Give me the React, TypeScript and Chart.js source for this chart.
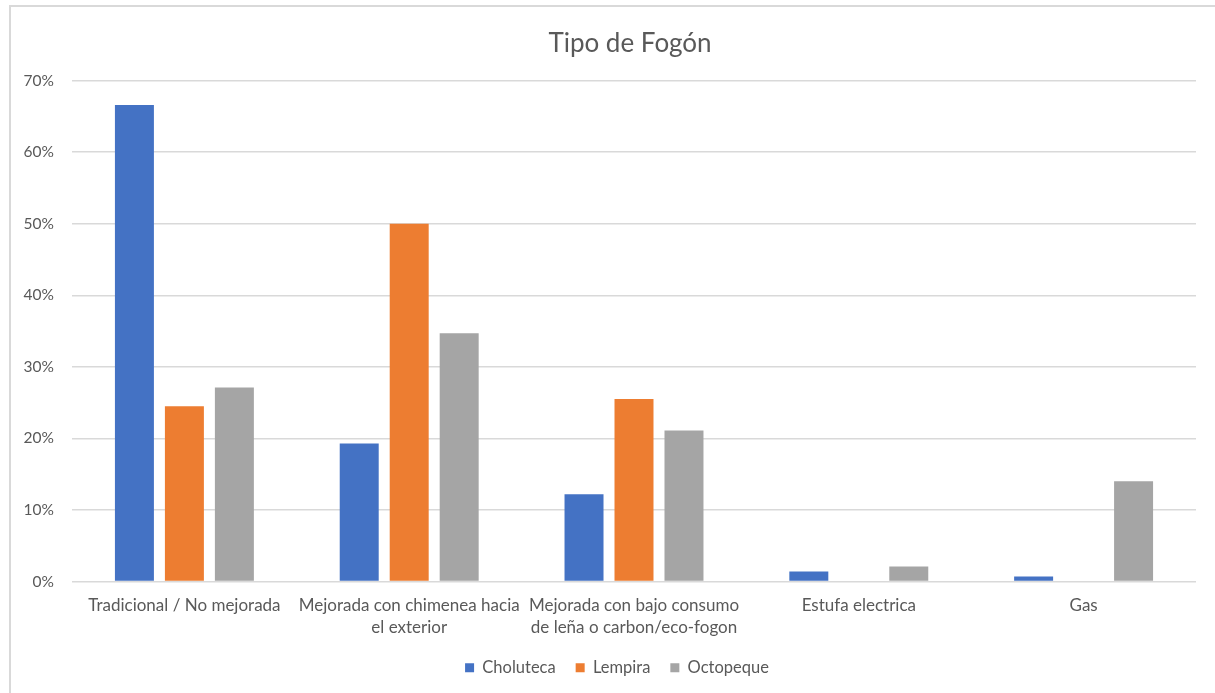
import React, { useEffect, useRef } from "react";
import { Chart, registerables } from "chart.js";

Chart.register(...registerables);

const categories: string[][] = [
  ["Tradicional / No mejorada"],
  ["Mejorada con chimenea hacia", "el exterior"],
  ["Mejorada con bajo consumo", "de leña o carbon/eco-fogon"],
  ["Estufa electrica"],
  ["Gas"],
];
const seriesNames = ["Choluteca", "Lempira", "Octopeque"];
const choluteca = [0.666, 0.193, 0.122, 0.014, 0.007];
const lempira = [0.245, 0.5, 0.255, 0, 0];
const octopeque = [0.271, 0.347, 0.211, 0.021, 0.14];
const yMax = 0.7;
const yStep = 0.1;
const chartTitle = "Tipo de Fogón";

const colors = ["#4472C4", "#ED7D31", "#A5A5A5"];
const FONT = "Lato, 'Open Sans', sans-serif";
const TEXT = "#595959";

// shifts the title and legend boxes horizontally to match the reference centring
const shiftPlugin = {
  id: "shiftBoxes",
  afterLayout(chart: any) {
    const t = chart.titleBlock;
    if (t) {
      t.left += 32;
      t.right += 32;
    }
    const l = chart.legend;
    if (l) {
      l.left += 19;
      l.right += 19;
    }
  },
};

export default function App() {
  const ref = useRef<HTMLCanvasElement | null>(null);
  useEffect(() => {
    if (!ref.current) return;
    const chart = new Chart(ref.current, {
      type: "bar",
      data: {
        labels: categories,
        datasets: [choluteca, lempira, octopeque].map((d, i) => ({
          label: seriesNames[i],
          data: d,
          backgroundColor: colors[i],
          borderWidth: 0,
          categoryPercentage: 0.667,
          barPercentage: 0.78,
        })),
      },
      plugins: [shiftPlugin],
      options: {
        animation: false,
        responsive: false,
        maintainAspectRatio: false,
        layout: { padding: { left: 0, right: 19, top: 28, bottom: 7 } },
        plugins: {
          title: {
            display: true,
            text: chartTitle,
            color: TEXT,
            font: { family: FONT, size: 26, weight: "normal" },
            padding: { top: 0, bottom: 21.5 },
          },
          legend: {
            position: "bottom",
            labels: {
              color: TEXT,
              font: { family: FONT, size: 16.5 },
              boxWidth: 9,
              boxHeight: 9,
              padding: 20,
            },
          },
          tooltip: { enabled: false },
        },
        scales: {
          x: {
            afterFit: (s: any) => {
              s.height = 58;
            },
            grid: { display: false },
            border: { display: false },
            ticks: {
              color: TEXT,
              font: { family: FONT, size: 17, lineHeight: 1.29 },
              maxRotation: 0,
              autoSkip: false,
              padding: 5,
            },
          },
          y: {
            min: 0,
            max: yMax,
            afterFit: (s: any) => {
              s.width = 72;
            },
            grid: { color: "#d9d9d9", lineWidth: 1.5, drawTicks: false },
            border: { display: false },
            ticks: {
              stepSize: yStep,
              color: TEXT,
              padding: 18,
              font: { family: FONT, size: 15.5 },
              callback: (v: any) => Math.round(Number(v) * 100) + "%",
            },
          },
        },
      },
    });
    return () => chart.destroy();
  }, []);

  return (
    <div
      style={{
        position: "fixed",
        left: 0,
        top: 0,
        width: 1215,
        height: 693,
        background: "#fff",
        overflow: "hidden",
      }}
    >
      <div
        style={{
          position: "absolute",
          left: 9,
          top: 5,
          width: 1230,
          height: 720,
          border: "2px solid #d9d9d9",
          boxSizing: "border-box",
        }}
      />
      <canvas
        ref={ref}
        width={1215}
        height={693}
        style={{ position: "absolute", left: 0, top: 0, width: 1215, height: 693 }}
      />
    </div>
  );
}
